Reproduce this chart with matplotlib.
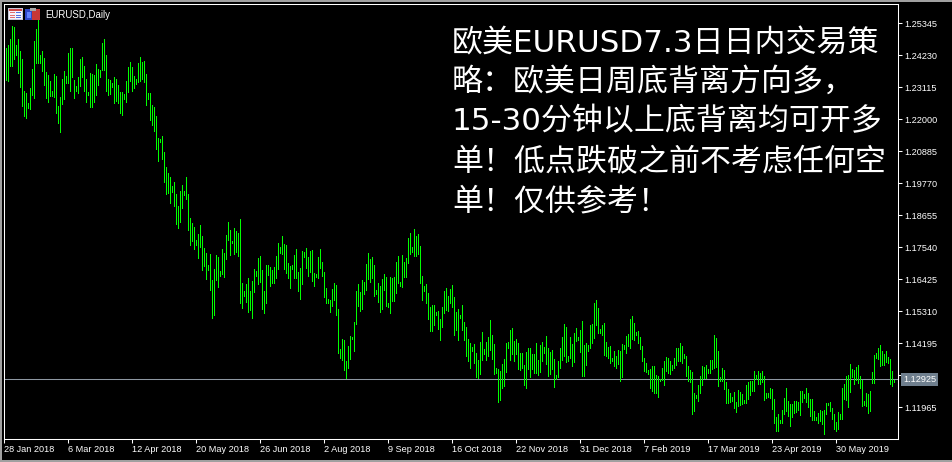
import matplotlib
matplotlib.use("Agg")
import matplotlib.pyplot as plt
from matplotlib.patches import Rectangle
from matplotlib.transforms import blended_transform_factory
import numpy as np

# ---------------- data ----------------
symbol_title = "EURUSD,Daily"

highs = [
    1.2447, 1.2458, 1.2479, 1.2524, 1.2521, 1.2458, 1.2479, 1.2437, 1.2409, 1.2298,
    1.2291, 1.2256, 1.2308, 1.2374, 1.2472, 1.2514, 1.2545, 1.2423, 1.2437, 1.2413,
    1.2364, 1.2353, 1.2332, 1.2298, 1.2357, 1.2350, 1.2245, 1.2277, 1.2339, 1.2367,
    1.2350, 1.2430, 1.2447, 1.2447, 1.2336, 1.2315, 1.2346, 1.2409, 1.2416, 1.2385,
    1.2339, 1.2294, 1.2360, 1.2357, 1.2353, 1.2392, 1.2374, 1.2371, 1.2465, 1.2479,
    1.2423, 1.2339, 1.2336, 1.2325, 1.2346, 1.2339, 1.2319, 1.2294, 1.2294, 1.2287,
    1.2332, 1.2381, 1.2399, 1.2381, 1.2350, 1.2339, 1.2395, 1.2416, 1.2399, 1.2402,
    1.2357, 1.2291, 1.2291, 1.2249, 1.2242, 1.2211, 1.2134, 1.2130, 1.2141, 1.2085,
    1.2033, 1.2012, 1.1998, 1.1967, 1.1981, 1.1939, 1.1897, 1.1949, 1.1970, 1.1949,
    1.1998, 1.1939, 1.1855, 1.1838, 1.1824, 1.1778, 1.1799, 1.1831, 1.1792, 1.1751,
    1.1733, 1.1691, 1.1730, 1.1639, 1.1677, 1.1726, 1.1719, 1.1670, 1.1747, 1.1733,
    1.1796, 1.1841, 1.1813, 1.1775, 1.1820, 1.1810, 1.1803, 1.1852, 1.1629, 1.1601,
    1.1625, 1.1646, 1.1601, 1.1636, 1.1677, 1.1670, 1.1716, 1.1723, 1.1674, 1.1601,
    1.1691, 1.1691, 1.1684, 1.1674, 1.1684, 1.1723, 1.1768, 1.1754, 1.1792, 1.1765,
    1.1761, 1.1698, 1.1688, 1.1691, 1.1726, 1.1747, 1.1667, 1.1681, 1.1740, 1.1737,
    1.1751, 1.1719, 1.1740, 1.1744, 1.1663, 1.1660, 1.1719, 1.1747, 1.1702, 1.1667,
    1.1611, 1.1573, 1.1569, 1.1608, 1.1629, 1.1622, 1.1538, 1.1399, 1.1434, 1.1430,
    1.1357, 1.1409, 1.1444, 1.1441, 1.1493, 1.1601, 1.1625, 1.1597, 1.1639, 1.1632,
    1.1695, 1.1733, 1.1712, 1.1719, 1.1691, 1.1604, 1.1629, 1.1618, 1.1643, 1.1660,
    1.1650, 1.1559, 1.1650, 1.1646, 1.1650, 1.1702, 1.1723, 1.1632, 1.1726, 1.1702,
    1.1716, 1.1785, 1.1803, 1.1754, 1.1817, 1.1792, 1.1799, 1.1758, 1.1653, 1.1618,
    1.1625, 1.1594, 1.1545, 1.1552, 1.1552, 1.1528, 1.1531, 1.1503, 1.1545, 1.1601,
    1.1611, 1.1583, 1.1608, 1.1622, 1.1580, 1.1528, 1.1538, 1.1517, 1.1552, 1.1493,
    1.1475, 1.1434, 1.1420, 1.1406, 1.1416, 1.1385, 1.1360, 1.1423, 1.1458, 1.1399,
    1.1423, 1.1441, 1.1500, 1.1447, 1.1416, 1.1333, 1.1329, 1.1322, 1.1347, 1.1364,
    1.1420, 1.1423, 1.1465, 1.1472, 1.1427, 1.1434, 1.1420, 1.1385, 1.1385, 1.1343,
    1.1388, 1.1402, 1.1402, 1.1381, 1.1381, 1.1420, 1.1360, 1.1413, 1.1423, 1.1406,
    1.1444, 1.1402, 1.1388, 1.1395, 1.1364, 1.1308, 1.1357, 1.1402, 1.1441, 1.1486,
    1.1475, 1.1374, 1.1441, 1.1416, 1.1454, 1.1472, 1.1441, 1.1465, 1.1496, 1.1413,
    1.1420, 1.1413, 1.1482, 1.1486, 1.1559, 1.1569, 1.1542, 1.1468, 1.1482, 1.1489,
    1.1423, 1.1406, 1.1409, 1.1367, 1.1392, 1.1374, 1.1395, 1.1392, 1.1416, 1.1413,
    1.1444, 1.1451, 1.1503, 1.1514, 1.1489, 1.1458, 1.1461, 1.1441, 1.1409, 1.1367,
    1.1350, 1.1326, 1.1329, 1.1340, 1.1340, 1.1308, 1.1305, 1.1294, 1.1333, 1.1357,
    1.1371, 1.1367, 1.1357, 1.1343, 1.1367, 1.1402, 1.1402, 1.1420, 1.1409, 1.1381,
    1.1374, 1.1340, 1.1326, 1.1319, 1.1245, 1.1238, 1.1273, 1.1305, 1.1340, 1.1336,
    1.1343, 1.1329, 1.1360, 1.1360, 1.1447, 1.1437, 1.1392, 1.1301, 1.1333, 1.1326,
    1.1284, 1.1259, 1.1245, 1.1231, 1.1249, 1.1214, 1.1256, 1.1249, 1.1242, 1.1221,
    1.1273, 1.1284, 1.1287, 1.1287, 1.1322, 1.1308, 1.1322, 1.1315, 1.1322, 1.1305,
    1.1245, 1.1245, 1.1263, 1.1259, 1.1224, 1.1162, 1.1172, 1.1151, 1.1186, 1.1228,
    1.1263, 1.1218, 1.1207, 1.1207, 1.1218, 1.1218, 1.1214, 1.1252, 1.1252, 1.1242,
    1.1263, 1.1245, 1.1224, 1.1224, 1.1183, 1.1162, 1.1176, 1.1186, 1.1183, 1.1186,
    1.1210, 1.1210, 1.1214, 1.1193, 1.1172, 1.1144, 1.1179, 1.1172, 1.1263, 1.1277,
    1.1305, 1.1308, 1.1347, 1.1329, 1.1326, 1.1336, 1.1343, 1.1305, 1.1291, 1.1218,
    1.1245, 1.1242, 1.1252, 1.1319, 1.1378, 1.1385, 1.1402, 1.1413, 1.1392, 1.1381,
    1.1392, 1.1371, 1.1364, 1.1322, 1.1291,
]

lows = [
    1.2336, 1.2332, 1.2385, 1.2385, 1.2409, 1.2423, 1.2360, 1.2312, 1.2245, 1.2211,
    1.2204, 1.2238, 1.2235, 1.2284, 1.2273, 1.2395, 1.2395, 1.2395, 1.2367, 1.2319,
    1.2273, 1.2259, 1.2280, 1.2280, 1.2277, 1.2221, 1.2186, 1.2155, 1.2252, 1.2270,
    1.2325, 1.2325, 1.2298, 1.2346, 1.2273, 1.2298, 1.2291, 1.2315, 1.2346, 1.2298,
    1.2259, 1.2284, 1.2242, 1.2242, 1.2259, 1.2284, 1.2319, 1.2346, 1.2371, 1.2371,
    1.2298, 1.2284, 1.2287, 1.2312, 1.2256, 1.2263, 1.2256, 1.2221, 1.2214, 1.2270,
    1.2259, 1.2294, 1.2332, 1.2298, 1.2308, 1.2322, 1.2329, 1.2332, 1.2339, 1.2329,
    1.2249, 1.2270, 1.2197, 1.2179, 1.2158, 1.2095, 1.2054, 1.2120, 1.2061, 1.1981,
    1.1939, 1.1942, 1.1907, 1.1946, 1.1897, 1.1834, 1.1820, 1.1841, 1.1890, 1.1935,
    1.1921, 1.1813, 1.1761, 1.1775, 1.1747, 1.1761, 1.1716, 1.1754, 1.1674, 1.1688,
    1.1643, 1.1674, 1.1604, 1.1507, 1.1517, 1.1639, 1.1615, 1.1653, 1.1660, 1.1650,
    1.1712, 1.1778, 1.1726, 1.1768, 1.1730, 1.1737, 1.1723, 1.1559, 1.1542, 1.1583,
    1.1562, 1.1528, 1.1535, 1.1507, 1.1597, 1.1653, 1.1625, 1.1632, 1.1538, 1.1524,
    1.1559, 1.1657, 1.1618, 1.1629, 1.1629, 1.1646, 1.1677, 1.1733, 1.1730, 1.1677,
    1.1663, 1.1646, 1.1611, 1.1677, 1.1646, 1.1646, 1.1601, 1.1573, 1.1625, 1.1719,
    1.1681, 1.1653, 1.1667, 1.1636, 1.1618, 1.1650, 1.1646, 1.1681, 1.1653, 1.1580,
    1.1559, 1.1559, 1.1528, 1.1549, 1.1569, 1.1517, 1.1385, 1.1367, 1.1360, 1.1326,
    1.1298, 1.1333, 1.1364, 1.1434, 1.1392, 1.1486, 1.1549, 1.1531, 1.1538, 1.1590,
    1.1604, 1.1643, 1.1632, 1.1646, 1.1583, 1.1590, 1.1562, 1.1528, 1.1538, 1.1604,
    1.1549, 1.1545, 1.1524, 1.1566, 1.1566, 1.1594, 1.1629, 1.1618, 1.1615, 1.1650,
    1.1650, 1.1698, 1.1730, 1.1737, 1.1723, 1.1723, 1.1730, 1.1629, 1.1569, 1.1601,
    1.1559, 1.1503, 1.1461, 1.1461, 1.1482, 1.1517, 1.1468, 1.1430, 1.1475, 1.1524,
    1.1535, 1.1531, 1.1559, 1.1545, 1.1447, 1.1465, 1.1430, 1.1507, 1.1465, 1.1430,
    1.1374, 1.1357, 1.1333, 1.1392, 1.1350, 1.1301, 1.1298, 1.1312, 1.1360, 1.1381,
    1.1360, 1.1374, 1.1395, 1.1364, 1.1312, 1.1315, 1.1214, 1.1221, 1.1263, 1.1270,
    1.1319, 1.1402, 1.1360, 1.1381, 1.1357, 1.1381, 1.1329, 1.1326, 1.1333, 1.1273,
    1.1263, 1.1329, 1.1301, 1.1329, 1.1315, 1.1315, 1.1308, 1.1319, 1.1357, 1.1385,
    1.1347, 1.1305, 1.1312, 1.1329, 1.1266, 1.1294, 1.1301, 1.1333, 1.1360, 1.1374,
    1.1353, 1.1357, 1.1367, 1.1340, 1.1353, 1.1427, 1.1430, 1.1388, 1.1305, 1.1305,
    1.1343, 1.1392, 1.1402, 1.1420, 1.1437, 1.1482, 1.1454, 1.1454, 1.1447, 1.1378,
    1.1374, 1.1367, 1.1350, 1.1357, 1.1340, 1.1333, 1.1347, 1.1287, 1.1301, 1.1399,
    1.1385, 1.1409, 1.1402, 1.1434, 1.1430, 1.1447, 1.1420, 1.1399, 1.1357, 1.1322,
    1.1319, 1.1312, 1.1263, 1.1252, 1.1245, 1.1245, 1.1231, 1.1287, 1.1291, 1.1273,
    1.1322, 1.1315, 1.1312, 1.1326, 1.1333, 1.1343, 1.1357, 1.1357, 1.1350, 1.1367,
    1.1305, 1.1287, 1.1284, 1.1172, 1.1183, 1.1228, 1.1218, 1.1245, 1.1273, 1.1298,
    1.1298, 1.1315, 1.1315, 1.1329, 1.1333, 1.1336, 1.1270, 1.1287, 1.1287, 1.1259,
    1.1210, 1.1210, 1.1214, 1.1218, 1.1193, 1.1179, 1.1200, 1.1204, 1.1207, 1.1210,
    1.1210, 1.1224, 1.1238, 1.1252, 1.1252, 1.1294, 1.1277, 1.1277, 1.1284, 1.1221,
    1.1228, 1.1231, 1.1228, 1.1190, 1.1141, 1.1113, 1.1113, 1.1141, 1.1141, 1.1172,
    1.1183, 1.1165, 1.1130, 1.1162, 1.1176, 1.1179, 1.1186, 1.1169, 1.1214, 1.1228,
    1.1214, 1.1197, 1.1165, 1.1151, 1.1151, 1.1151, 1.1141, 1.1148, 1.1137, 1.1103,
    1.1172, 1.1204, 1.1183, 1.1155, 1.1120, 1.1113, 1.1120, 1.1155, 1.1155, 1.1224,
    1.1221, 1.1197, 1.1249, 1.1301, 1.1277, 1.1291, 1.1280, 1.1263, 1.1200, 1.1204,
    1.1200, 1.1176, 1.1183, 1.1280, 1.1280, 1.1367, 1.1364, 1.1340, 1.1343, 1.1343,
    1.1353, 1.1350, 1.1277, 1.1270, 1.1284,
]

last_price = 1.12925

price_ticks = [1.25345, 1.24230, 1.23115, 1.22000, 1.20885, 1.19770, 1.18655,
               1.17540, 1.16425, 1.15310, 1.14195, 1.13080, 1.11965]

date_labels = ["28 Jan 2018", "6 Mar 2018", "12 Apr 2018", "20 May 2018",
               "26 Jun 2018", "2 Aug 2018", "9 Sep 2018", "16 Oct 2018",
               "22 Nov 2018", "31 Dec 2018", "7 Feb 2019", "17 Mar 2019",
               "23 Apr 2019", "30 May 2019"]
bars_per_label = 32
first_label_bar = -1

note_lines = ["欧美EURUSD7.3日日内交易策",
              "略：欧美日周底背离方向多，",
              "15-30分钟以上底背离均可开多",
              "单！低点跌破之前不考虑任何空",
              "单！仅供参考！"]

# ---------------- layout ----------------
W, H = 953, 462
fig = plt.figure(figsize=(W / 100, H / 100), dpi=100, facecolor="black")

L, R, T, B = 4, 898, 4, 439  # frame in pixels
ax = fig.add_axes([L / W, (H - B) / H, (R - L) / W, (B - T) / H], facecolor="black")

x = np.arange(len(highs))
ax.vlines(x, lows, highs, colors="#00ff00", linewidth=0.62, antialiased=False, zorder=3)
ax.axhline(last_price, color="#8e98a2", lw=0.75, zorder=2)

ax.set_xlim(-1.165, 445.8)
ax.set_ylim(1.10851, 1.26007)

for s in ax.spines.values():
    s.set_color("white")
    s.set_linewidth(0.75)

tick_font = dict(family="Liberation Sans", size=6.6)

ax.yaxis.tick_right()
ax.set_yticks(price_ticks)
ax.set_yticklabels([f"{v:.5f}" for v in price_ticks], fontdict=tick_font, color="white")
ax.tick_params(axis="y", direction="out", length=3, width=0.75, colors="white", pad=1.5)

tick_pos = [first_label_bar + bars_per_label * k for k in range(len(date_labels))]
ax.set_xticks(tick_pos)
ax.set_xticklabels(date_labels, fontdict=tick_font, color="white", ha="left")
ax.tick_params(axis="x", direction="out", length=3, width=0.75, colors="white", pad=1.5)

# current price label
trans = blended_transform_factory(ax.transAxes, ax.transData)
ax.text(1 + 5 / (R - L), last_price, f"{last_price:.5f}", transform=trans,
        ha="left", va="center", color="white", fontsize=6.6, family="Liberation Sans",
        bbox=dict(facecolor="#6f7f8e", edgecolor="none", boxstyle="square,pad=0.22"),
        zorder=10, clip_on=False)

# title
fig.text(45 / W, 1 - 15 / H, symbol_title, color="white", fontsize=6.9,
         family="Liberation Sans", ha="left", va="center")


def px_rect(x0, y0, w, h, color):
    fig.add_artist(Rectangle((x0 / W, 1 - (y0 + h) / H), w / W, h / H,
                             transform=fig.transFigure, facecolor=color,
                             edgecolor="none", zorder=20))


# MT4-like icons
px_rect(8, 8, 15, 12, "#c8c8d8")
px_rect(9, 9, 13, 10, "#f4f4ff")
px_rect(9, 9, 13, 2, "#d04848")
for r in range(3):
    px_rect(10, 12 + 2.5 * r, 5, 1.3, "#e07070")
    px_rect(16, 12 + 2.5 * r, 5, 1.3, "#5070e0")
px_rect(25, 9, 7, 11, "#3048c8")
px_rect(32, 9, 8, 11, "#c83838")
px_rect(30, 8, 6, 3, "#a8a8a8")
px_rect(27, 12, 4, 6, "#6080ff")

# window border
px_rect(0, 0, W, 2, "#a0a0a0")
px_rect(0, 0, 2, H, "#a0a0a0")
px_rect(0, H - 2, W, 2, "#a0a0a0")

# annotation
cjk = ["DejaVu Sans", "Noto Sans CJK SC"]
line_y = [44, 82, 122, 162, 202]
for txt, yc in zip(note_lines, line_y):
    fig.text(452 / W, 1 - yc / H, txt, color="white", fontsize=22.3,
             family=cjk, ha="left", va="center", zorder=30)

fig.savefig("out.png", dpi=100, facecolor="black")
